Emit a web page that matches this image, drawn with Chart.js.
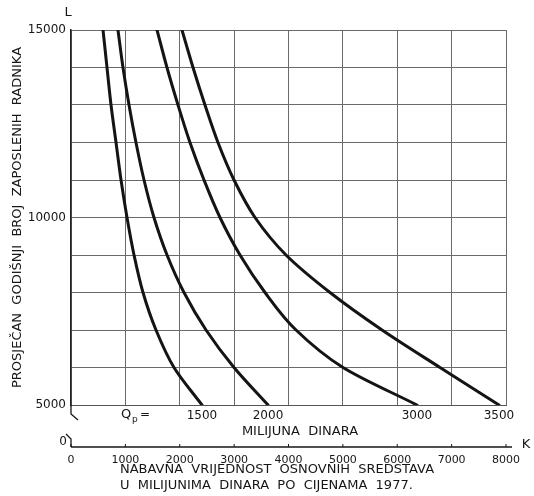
<!DOCTYPE html>
<html>
<head>
<meta charset="utf-8">
<script src="https://cdn.jsdelivr.net/npm/chart.js@4.4.1/dist/chart.umd.min.js"></script>
<style>
  html, body { margin: 0; padding: 0; background: #ffffff; }
  #wrap { width: 534px; height: 496px; }
</style>
</head>
<body>
<div id="wrap"><canvas id="c" width="534" height="496"></canvas></div>
<script>
// Employment levels L (y axis), top to bottom
const laborLevels = [15000, 14000, 13000, 12000, 11000, 10000, 9000, 8000, 7000, 6000, 5000];
// Capital K (millions of dinars) needed on each isoquant at each labour level
const kQ1500 = [589, 662, 736, 828, 920, 1030, 1159, 1324, 1563, 1894, 2409];
const kQ2000 = [864, 956, 1067, 1195, 1343, 1526, 1766, 2078, 2483, 2998, 3623];
const kQ3000 = [1582, 1765, 1968, 2188, 2446, 2740, 3108, 3568, 4138, 5002, 6363];
const kQ3500 = [2041, 2244, 2464, 2703, 2998, 3384, 3954, 4763, 5720, 6786, 7871];
const isoquantLabels = ['1500', '2000', '3000', '3500'];
const yTickLabels = [5000, 10000, 15000];
const xTickStep = 1000;

const series = [kQ1500, kQ2000, kQ3000, kQ3500];
const datasets = series.map((arr, i) => ({
  label: isoquantLabels[i],
  data: arr.map((k, j) => ({ x: k, y: laborLevels[j] })),
  showLine: true,
  indexAxis: 'y',
  borderColor: '#141414',
  borderWidth: 3,
  pointRadius: 0,
  cubicInterpolationMode: 'monotone',
  borderCapStyle: 'round',
  borderJoinStyle: 'round',
  fill: false
}));

const FONT = 'DejaVu Sans';

const extras = {
  id: 'extras',
  afterDraw(chart) {
    const { ctx, chartArea: a, scales: { x, y } } = chart;
    ctx.save();
    ctx.fillStyle = '#161616';
    ctx.strokeStyle = '#161616';
    // isoquant labels at curve ends
    ctx.font = '12px "' + FONT + '"';
    ctx.textAlign = 'center';
    ctx.textBaseline = 'middle';
    chart.data.datasets.forEach(ds => {
      const last = ds.data[ds.data.length - 1];
      ctx.fillText(ds.label, x.getPixelForValue(last.x), a.bottom + 11);
    });
    // Qp =
    ctx.textAlign = 'left';
    ctx.font = '13px "' + FONT + '"';
    ctx.fillText('Q', a.left + 50, a.bottom + 10);
    ctx.font = '9px "' + FONT + '"';
    ctx.fillText('p', a.left + 61, a.bottom + 15);
    ctx.font = '12px "' + FONT + '"';
    ctx.fillText('=', a.left + 69, a.bottom + 10);
    // unit under isoquant labels
    ctx.textAlign = 'center';
    ctx.font = '13px "' + FONT + '"';
    ctx.fillText('MILIJUNA  DINARA', 300, a.bottom + 27);
    // L label
    ctx.fillText('L', a.left - 3, a.top - 17);
    // broken y axis
    ctx.lineWidth = 1.3;
    ctx.beginPath();
    ctx.moveTo(a.left, a.bottom);
    ctx.lineTo(a.left, a.bottom + 9);
    ctx.lineTo(a.left + 7, a.bottom + 15);
    ctx.stroke();
    const ky = a.bottom + 42;
    ctx.beginPath();
    ctx.moveTo(a.left - 5, ky - 13);
    ctx.lineTo(a.left, ky - 8);
    ctx.lineTo(a.left, ky);
    ctx.stroke();
    ctx.font = '12px "' + FONT + '"';
    ctx.fillText('0', a.left - 8, ky - 5);
    // K axis
    ctx.lineWidth = 1.5;
    ctx.beginPath();
    ctx.moveTo(a.left, ky);
    ctx.lineTo(a.right + 6, ky);
    ctx.stroke();
    ctx.lineWidth = 1;
    for (let v = x.min; v <= x.max; v += xTickStep) {
      const px = x.getPixelForValue(v);
      ctx.beginPath();
      ctx.moveTo(px, ky);
      ctx.lineTo(px, ky - 3);
      ctx.stroke();
    }
    ctx.font = '13px "' + FONT + '"';
    ctx.fillText('K', a.right + 20, ky - 2);
    // x axis title (two lines, left aligned)
    ctx.textAlign = 'left';
    ctx.font = '13px "' + FONT + '"';
    ctx.fillText('NABAVNA  VRIJEDNOST  OSNOVNIH  SREDSTAVA', 120, 470);
    ctx.fillText('U  MILIJUNIMA  DINARA  PO  CIJENAMA  1977.', 120, 486);
    ctx.restore();
  }
};

new Chart(document.getElementById('c'), {
  type: 'scatter',
  data: { datasets },
  options: {
    responsive: false,
    animation: false,
    devicePixelRatio: 1,
    indexAxis: 'y',
    layout: { padding: { top: 30, right: 28, bottom: 0, left: 0 } },
    plugins: { legend: { display: false }, tooltip: { enabled: false } },
    scales: {
      x: {
        type: 'linear',
        axis: 'x',
        position: 'bottom',
        min: 0,
        max: 8000,
        afterFit(scale) {
          scale.height = 91;
          scale.paddingLeft = 0;
          scale.paddingRight = 0;
        },
        grid: { color: '#6a6a6a', lineWidth: 1, tickLength: 0, drawTicks: false },
        border: { display: true, color: '#555', width: 1 },
        ticks: {
          stepSize: xTickStep,
          autoSkip: false,
          maxRotation: 0,
          padding: 49,
          color: '#161616',
          font: { family: FONT, size: 11 },
          callback: v => String(v)
        }
      },
      y: {
        type: 'linear',
        axis: 'y',
        position: 'left',
        min: 5000,
        max: 15000,
        afterFit(scale) { scale.width = 71; },
        grid: { color: '#6a6a6a', lineWidth: 1, tickLength: 0, drawTicks: false },
        border: { display: true, color: '#222', width: 1.5 },
        ticks: {
          stepSize: 1000,
          autoSkip: false,
          padding: 5,
          color: '#161616',
          font: { family: FONT, size: 12 },
          callback: v => (yTickLabels.includes(v) ? String(v) : '')
        },
        title: {
          display: true,
          text: 'PROSJEČAN  GODIŠNJI  BROJ  ZAPOSLENIH  RADNIKA',
          color: '#161616',
          font: { family: FONT, size: 13 },
          padding: { top: 10, bottom: 0 }
        }
      }
    }
  },
  plugins: [extras]
});
</script>
</body>
</html>
